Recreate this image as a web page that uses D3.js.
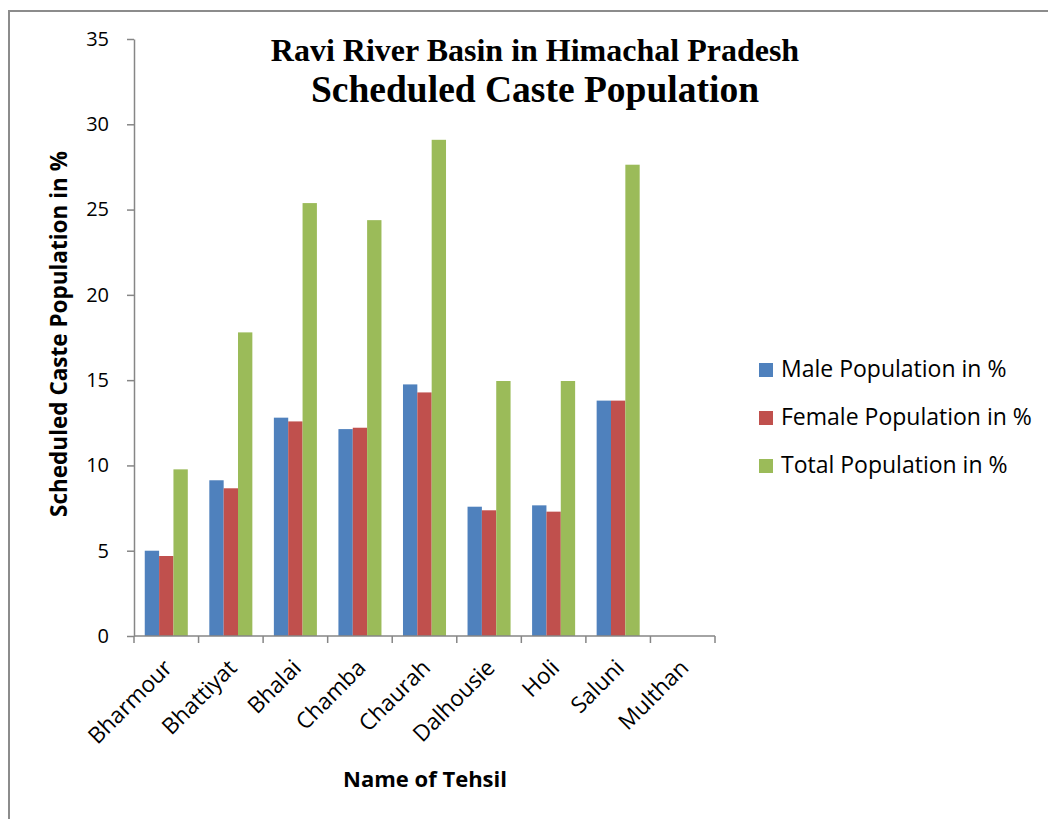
<!DOCTYPE html>
<html>
<head>
<meta charset="utf-8">
<script src="https://cdn.jsdelivr.net/npm/d3@7"></script>
<style>
  body { margin: 0; background: #fff; }
  text { font-family: "Open Sans", "Noto Sans", sans-serif; }
</style>
</head>
<body>
<svg id="chart" width="1048" height="819"></svg>
<script>
"use strict";

// data
const tehsils = ["Bharmour", "Bhattiyat", "Bhalai", "Chamba", "Chaurah", "Dalhousie", "Holi", "Saluni", "Multhan"];
const male   = [5.0, 9.13, 12.8, 12.13, 14.75, 7.58, 7.66, 13.8, null];
const female = [4.69, 8.66, 12.58, 12.21, 14.28, 7.37, 7.29, 13.8, null];
const total  = [9.77, 17.8, 25.38, 24.38, 29.09, 14.95, 14.95, 27.63, null];
const series_names = ["Male Population in %", "Female Population in %", "Total Population in %"];
const y_ticks = [0, 5, 10, 15, 20, 25, 30, 35];

const colors = ["#4F81BD", "#C0504D", "#9BBB59"];
const series = [male, female, total];

const svg = d3.select("#chart");

// outer frame
svg.append("path")
  .attr("d", "M9,830 V11 H1060")
  .attr("fill", "none")
  .attr("stroke", "#8c8c8c")
  .attr("stroke-width", 2);

// plot area
const p_left = 134, p_right = 715, p_top = 39, p_bottom = 636;

const x = d3.scaleBand().domain(tehsils).range([p_left, p_right])
  .paddingInner(1 / 3).paddingOuter(1 / 6);
const xs = d3.scaleBand().domain(d3.range(3)).range([0, x.bandwidth()]);
const y = d3.scaleLinear().domain([0, 35]).range([p_bottom, p_top]);

// bars
series.forEach((vals, s) => {
  svg.append("g")
    .selectAll("rect")
    .data(tehsils.map((t, i) => ({ t, v: vals[i] })).filter(d => d.v != null))
    .join("rect")
    .attr("x", d => x(d.t) + xs(s))
    .attr("y", d => y(d.v))
    .attr("width", xs.bandwidth())
    .attr("height", d => y(0) - y(d.v))
    .attr("fill", colors[s]);
});

// y axis
const yAxis = svg.append("g")
  .attr("transform", `translate(${p_left},0)`)
  .call(d3.axisLeft(y).tickValues(y_ticks).tickSize(7).tickSizeOuter(0).tickPadding(18));
yAxis.selectAll("line, path").attr("stroke", "#868686").attr("stroke-width", 1.5);
yAxis.selectAll("text").attr("font-size", 20).attr("fill", "#000")
  .style("font-family", "'Open Sans', 'Noto Sans', sans-serif");

// x axis: ticks at category boundaries
const step = x.step();
const xg = svg.append("g");
xg.append("line")
  .attr("x1", p_left).attr("x2", p_right)
  .attr("y1", p_bottom).attr("y2", p_bottom)
  .attr("stroke", "#868686").attr("stroke-width", 1.5);
xg.selectAll("line.tk")
  .data(d3.range(tehsils.length + 1))
  .join("line")
  .attr("class", "tk")
  .attr("x1", i => p_left + i * step).attr("x2", i => p_left + i * step)
  .attr("y1", p_bottom).attr("y2", p_bottom + 7)
  .attr("stroke", "#868686").attr("stroke-width", 1.5);

xg.selectAll("text")
  .data(tehsils)
  .join("text")
  .attr("transform", d => `translate(${x(d) + x.bandwidth() / 2 + 3},${p_bottom + 29}) rotate(-45)`)
  .attr("text-anchor", "end")
  .attr("dominant-baseline", "middle")
  .attr("font-size", 22.5)
  .attr("fill", "#000")
  .text(d => d);

// axis titles
svg.append("text")
  .attr("transform", `translate(61,334) rotate(-90)`)
  .attr("text-anchor", "middle")
  .attr("dominant-baseline", "middle")
  .attr("font-size", 22.5)
  .attr("font-weight", "bold")
  .text("Scheduled Caste Population in %");

svg.append("text")
  .attr("x", 425).attr("y", 787)
  .attr("text-anchor", "middle")
  .attr("font-size", 22)
  .attr("font-weight", "bold")
  .text("Name of Tehsil");

// chart title
svg.append("text")
  .attr("x", 535).attr("y", 61)
  .attr("text-anchor", "middle")
  .style("font-family", "'Liberation Serif', 'DejaVu Serif', serif")
  .attr("font-size", 32)
  .attr("font-weight", "bold")
  .text("Ravi River Basin in Himachal Pradesh");

svg.append("text")
  .attr("x", 535).attr("y", 102)
  .attr("text-anchor", "middle")
  .style("font-family", "'Liberation Serif', 'DejaVu Serif', serif")
  .attr("font-size", 37.5)
  .attr("font-weight", "bold")
  .text("Scheduled Caste Population");

// legend
const lg = svg.append("g").attr("transform", "translate(759,363)");
series_names.forEach((name, i) => {
  lg.append("rect")
    .attr("x", 0).attr("y", i * 48)
    .attr("width", 14).attr("height", 14)
    .attr("fill", colors[i]);
  lg.append("text")
    .attr("x", 22).attr("y", i * 48 + 8)
    .attr("dominant-baseline", "middle")
    .attr("font-size", 23)
    .attr("fill", "#000")
    .text(name);
});
</script>
</body>
</html>
